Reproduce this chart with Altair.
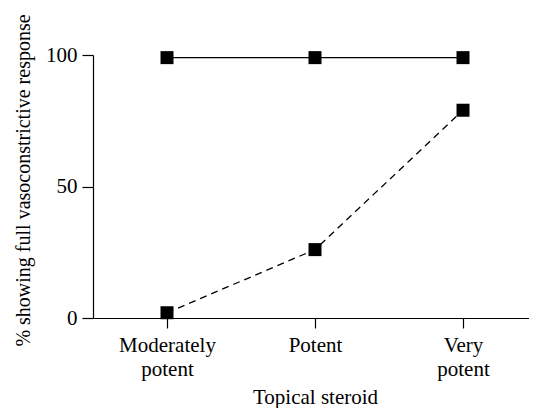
import altair as alt
import pandas as pd
import json

categories = ["Moderately potent", "Potent", "Very potent"]
positions = [1, 2, 3]
series_solid = [99, 99, 99]
series_dashed = [2, 26, 79]
series_names = ["Full response (solid)", "Full response (dashed)"]
y_ticks = [0, 50, 100]

rows = []
for p, c, v in zip(positions, categories, series_solid):
    rows.append({"pos": p, "steroid": c, "value": v, "series": series_names[0]})
for p, c, v in zip(positions, categories, series_dashed):
    rows.append({"pos": p, "steroid": c, "value": v, "series": series_names[1]})
df = pd.DataFrame(rows)

FONT = "'Liberation Serif', 'Times New Roman', Times, serif"

W = 436
STEP = 148
x_domain = [0.5, 0.5 + W / STEP]

label_expr = "split(" + json.dumps(categories).replace('"', "'") + "[datum.value - 1], ' ')"

x = alt.X(
    "pos:Q",
    scale=alt.Scale(domain=x_domain, nice=False, zero=False),
    axis=alt.Axis(
        title="Topical steroid",
        values=positions,
        labelAngle=0,
        labelExpr=label_expr,
        labelLineHeight=24,
        labelPadding=6,
        labelBaseline="top",
        tickSize=10,
        grid=False,
        titleFontSize=21,
        titleBaseline="alphabetic",
        titleX=222,
        titleY=85,
        titlePadding=0,
    ),
)
y = alt.Y(
    "value:Q",
    scale=alt.Scale(domain=[0, 100], nice=False, zero=True),
    axis=alt.Axis(
        title="% showing full vasoconstrictive response",
        values=y_ticks,
        tickSize=11,
        labelPadding=5,
        grid=False,
        titleFontSize=20,
        titleAngle=-90,
        titleBaseline="alphabetic",
        titleAlign="center",
        titleX=-64,
        titleY=125,
    ),
)

dash = alt.StrokeDash(
    "series:N",
    scale=alt.Scale(domain=series_names, range=[[1, 0], [7, 5]]),
    legend=None,
)

lines = alt.Chart(df).mark_line(color="black", strokeWidth=1.3).encode(
    x=x, y=y, strokeDash=dash, detail="series:N"
)
points = alt.Chart(df).mark_point(
    shape="square", filled=True, color="black", size=169, opacity=1
).encode(x=x, y=y, detail="series:N")

chart = (
    alt.layer(lines, points)
    .properties(
        width=W,
        height=263,
        autosize=alt.AutoSizeParams(type="none"),
        padding={"left": 85, "top": 47, "right": 0, "bottom": 90},
    )
    .configure_view(stroke=None)
    .configure_axis(
        labelFont=FONT,
        titleFont=FONT,
        labelFontSize=21,
        labelColor="black",
        titleColor="black",
        titleFontWeight="normal",
        domainColor="black",
        tickColor="black",
        domainWidth=1.2,
        tickWidth=1.2,
    )
)

chart.save("out.html", embed_options={"renderer": "svg", "actions": False})
